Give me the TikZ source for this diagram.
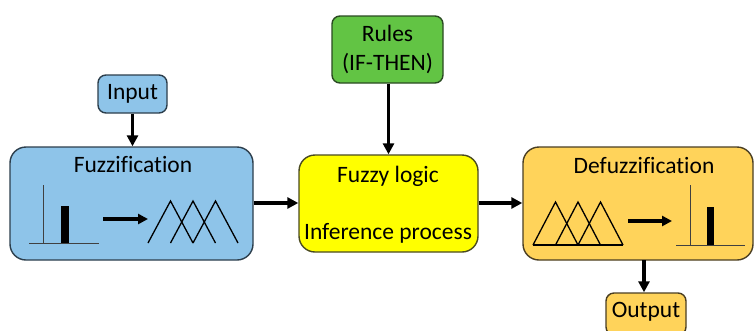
\documentclass[tikz,border=0pt]{standalone}
\usepackage{fontspec}
\setmainfont{Carlito}[Ligatures={NoCommon}]
\usetikzlibrary{arrows.meta}
\definecolor{fuzzblue}{HTML}{8EC4E9}
\definecolor{fuzzblueline}{HTML}{2C3E4C}
\definecolor{rulegreen}{HTML}{62C444}
\definecolor{rulegreenline}{HTML}{2A4A22}
\definecolor{logicyellow}{HTML}{FFFF00}
\definecolor{logicyellowline}{HTML}{4A4A20}
\definecolor{defuzzgold}{HTML}{FFD35A}
\definecolor{defuzzgoldline}{HTML}{4A3E22}
\tikzset{
  box/.style={draw, line width=1.4pt, rectangle, inner sep=0pt},
  bigbox/.style={box, rounded corners=16pt},
  smallbox/.style={box, rounded corners=8pt},
  label/.style={font=\fontsize{23.5pt}{27pt}\selectfont, inner sep=0pt, align=center},
  flow/.style={line width=3.2pt, -{Triangle[length=11pt,width=11pt]}},
  mf/.style={line width=1.3pt, line join=miter},
  axis/.style={line width=1pt, draw=black!75},
  bar/.style={fill=black, draw=none}
}
\begin{document}
\begin{tikzpicture}[x=1pt,y=-1pt]
\useasboundingbox (0,0) rectangle (754,330);
\clip (0,0) rectangle (754,330);
\fill[white] (0,0) rectangle (754,330);

% blocks
\node[smallbox, fill=fuzzblue, draw=fuzzblueline, minimum width=69pt, minimum height=38pt] (input) at (132.5,94) {};
\node[label] (inputtxt) at (input.center) {Input};

\node[bigbox, fill=fuzzblue, draw=fuzzblueline, minimum width=243pt, minimum height=113pt] (fuzz) at (131.5,203.5) {};
\node[label] (fuzztxt) at (133,164) {Fuzzification};

\node[smallbox, fill=rulegreen, draw=rulegreenline, minimum width=111pt, minimum height=67pt] (rules) at (387.5,49.5) {};
\node[label, font=\fontsize{23.5pt}{29pt}\selectfont] (rulestxt) at (rules.center) {Rules\\(IF-THEN)};

\node[bigbox, fill=logicyellow, draw=logicyellowline, minimum width=179pt, minimum height=97pt] (logic) at (388.5,203.5) {};
\node[label] (logictxt1) at (388,176) {Fuzzy logic};
\node[label] (logictxt2) at (388,233) {Inference process};

\node[bigbox, fill=defuzzgold, draw=defuzzgoldline, minimum width=230pt, minimum height=113pt] (defuzz) at (638,203.5) {};
\node[label] (defuzztxt) at (644,165) {Defuzzification};

\node[smallbox, fill=defuzzgold, draw=defuzzgoldline, minimum width=80pt, minimum height=42pt] (output) at (646,314) {};
\node[label] (outputtxt) at (646,312) {Output};

% connectors
\draw[flow] (input.south) -- (input.south |- fuzz.north);
\draw[flow] (rules.south -| logic.north) -- (logic.north);
\draw[flow] (fuzz.east |- 0,203) -- (logic.west |- 0,203);
\draw[flow] (logic.east |- 0,203) -- (defuzz.west |- 0,203);
\draw[flow] (644,260) coordinate (dfout) -- (dfout |- output.north);

% fuzzification: crisp value -> fuzzy sets
\draw[axis] (43,185) -- (43,243);
\draw[axis] (29,243) -- (99,243);
\fill[bar] (61,206) rectangle (69,243);
\draw[line width=3.2pt, -{Triangle[length=10pt,width=10pt]}] (103,219) -- (148,219);
\foreach \s in {148,170.5,193}
  \draw[mf] (\s,243) -- (\s+22.5,201) -- (\s+45,243);

% defuzzification: fuzzy sets -> crisp value
\foreach \s in {533,555.5,578}
  \draw[mf] (\s,245) -- (\s+22.5,202) -- (\s+45,245);
\draw[mf] (533,245) -- (623,245);
\draw[line width=3.2pt, -{Triangle[length=10pt,width=10pt]}] (628,221) -- (672,221);
\draw[axis] (690,185) -- (690,245);
\draw[axis] (676,245) -- (745,245);
\fill[bar] (706.5,207) rectangle (714,245);
\end{tikzpicture}
\end{document}
